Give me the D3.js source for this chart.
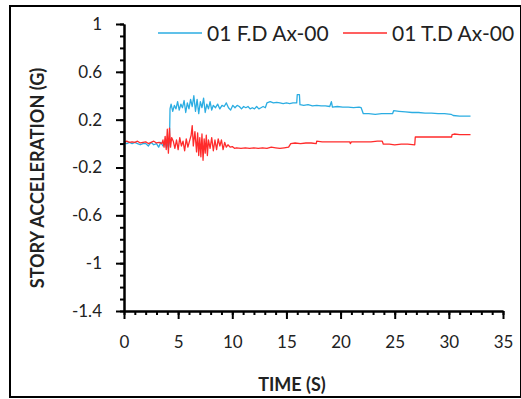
<!DOCTYPE html>
<html>
<head>
<meta charset="utf-8">
<script src="https://cdn.jsdelivr.net/npm/d3@7"></script>
<style>
  body { margin: 0; background: #fff; }
  svg { display: block; }
  text { font-family: Lato, "Open Sans", sans-serif; fill: #222; }
</style>
</head>
<body>
<svg id="chart" width="521" height="399"></svg>
<script>
// series names
var seriesNames = ["01 F.D Ax-00", "01 T.D Ax-00"];

// F.D record: [time (s), acceleration (g)]
var fdPoints = [
  [0,0.01],[0.25,0],[0.5,0.01],[0.75,0],[1,0.01],[1.25,0],[1.5,-0.01],[1.75,0],[2,0],[2.25,-0.02],
  [2.5,0.01],[2.75,-0.01],[3,0],[3.2,-0.03],[3.4,0.01],[3.6,-0.02],[3.8,0.02],[3.9,-0.03],[4.0,0],[4.1,-0.04],
  [4.2,0.02],[4.25,0.29],
  [4.35,0.33],[4.5,0.27],[4.65,0.32],[4.8,0.29],[4.95,0.35],[5.1,0.28],[5.25,0.33],[5.4,0.30],[5.55,0.36],
  [5.7,0.26],[5.85,0.34],[6.0,0.29],[6.15,0.37],[6.3,0.31],[6.45,0.40],[6.6,0.27],[6.75,0.37],[6.9,0.25],
  [7.05,0.35],[7.2,0.30],[7.35,0.38],[7.5,0.26],[7.65,0.33],[7.8,0.29],[7.95,0.35],[8.1,0.28],[8.25,0.32],
  [8.45,0.30],[8.65,0.33],[8.85,0.29],[9.05,0.32],[9.25,0.31],[9.45,0.34],[9.65,0.30],[9.85,0.28],
  [10.05,0.32],[10.25,0.30],[10.45,0.32],[10.65,0.31],[10.85,0.29],[11.05,0.31],[11.25,0.30],[11.45,0.31],
  [11.65,0.29],[11.85,0.30],[12.05,0.29],[12.25,0.31],[12.45,0.29],[12.65,0.30],[12.85,0.31],[13.05,0.30],
  [13.2,0.34],[13.5,0.35],[13.8,0.34],[14.1,0.345],[14.4,0.34],[14.7,0.335],[15.0,0.34],[15.3,0.335],
  [15.6,0.34],[15.95,0.34],[16.0,0.41],[16.2,0.41],[16.25,0.325],[16.6,0.32],[17.0,0.325],[17.4,0.315],
  [17.8,0.32],[18.2,0.315],[18.6,0.315],[19.0,0.31],[19.15,0.35],[19.25,0.305],[19.7,0.31],[20.2,0.305],
  [20.7,0.305],[21.2,0.30],[21.7,0.305],[21.9,0.30],[22.1,0.25],[22.6,0.25],[23.2,0.245],[23.8,0.25],
  [24.4,0.25],[24.8,0.25],[24.9,0.275],[25.4,0.27],[26.0,0.265],[26.6,0.26],[27.2,0.26],[27.8,0.255],
  [28.4,0.255],[29.0,0.25],[29.6,0.25],[30.2,0.245],[30.4,0.235],[31.0,0.23],[31.5,0.23],[32.0,0.23]
];

// T.D record: [time (s), acceleration (g)]
var tdPoints = [
  [0,0.01],[0.25,0.02],[0.5,0.01],[0.75,0.015],[1,0.01],[1.25,0.02],[1.5,0.005],[1.75,0.01],[2,0.015],
  [2.25,0],[2.5,0.01],[2.75,0.02],[3,0.005],[3.25,0.01],[3.5,0],
  [3.6,0.03],[3.7,-0.03],[3.8,0.06],[3.9,-0.05],[4.0,0.12],[4.1,-0.08],[4.2,0.13],[4.3,-0.03],[4.4,0.05],
  [4.55,0.02],[4.7,-0.04],[4.85,0.03],[5.0,-0.05],[5.15,0.05],[5.3,-0.02],[5.45,0.02],[5.6,-0.06],
  [5.75,0.04],[5.9,-0.03],[6.05,0.02],
  [6.2,0.07],[6.3,0.15],[6.4,-0.02],[6.55,0.10],[6.7,-0.07],
  [6.8,0.09],[6.9,-0.10],[7.0,0.05],[7.1,-0.11],[7.2,0.08],[7.3,-0.14],[7.4,0.04],[7.5,-0.08],[7.6,0.07],
  [7.7,-0.10],[7.8,0.03],
  [7.95,-0.04],[8.1,0.05],[8.25,-0.06],[8.4,0.03],[8.55,-0.05],[8.7,0.04],[8.85,-0.02],[9.0,0.03],
  [9.15,-0.05],[9.3,0.01],[9.45,-0.03],
  [9.6,-0.01],[9.8,-0.03],[10.0,-0.025],[10.2,-0.04],[10.4,-0.035],[10.8,-0.04],[11.2,-0.035],[11.6,-0.04],
  [12.0,-0.035],[12.4,-0.04],[12.8,-0.035],[13.2,-0.04],[13.6,-0.03],[14.0,-0.035],[14.4,-0.04],
  [14.8,-0.035],[15.2,-0.03],[15.4,0],[15.8,0.005],[16.3,0],[16.8,0.005],[17.3,0.005],[17.75,0],
  [17.8,0.02],[18.3,0.015],[18.8,0.015],[19.3,0.015],[19.8,0.015],[20.3,0.015],[20.85,0.015],[20.9,0],
  [21.0,0.015],[21.6,0.015],[22.2,0.015],[22.8,0.015],[23.4,0.02],[23.85,0.02],[23.95,-0.005],[24.5,-0.005],
  [25.0,-0.01],[25.6,-0.005],[26.2,-0.005],[26.85,-0.01],[26.9,0.055],[27.5,0.055],[28.1,0.055],
  [28.7,0.055],[29.3,0.055],[30.0,0.055],[30.25,0.055],[30.3,0.075],[30.5,0.08],[31.0,0.075],
  [31.5,0.075],[32.0,0.075]
];

// tick values and labels
var xTicks = [0, 5, 10, 15, 20, 25, 30, 35];
var xTickLabels = ["0", "5", "10", "15", "20", "25", "30", "35"];
var yTicks = [1, 0.6, 0.2, -0.2, -0.6, -1, -1.4];
var yTickLabels = ["1", "0.6", "0.2", "-0.2", "-0.6", "-1", "-1.4"];
var xMinor = d3.range(0, 36, 1);
var yMinor = d3.range(-14, 11, 1).map(function(i){ return i / 10; });

var colors = ["#2BADE2", "#FF2B2B"];

var svg = d3.select("#chart");

// outer frame
svg.append("rect")
    .attr("x", 10).attr("y", 6)
    .attr("width", 511).attr("height", 391)
    .attr("fill", "none")
    .attr("stroke", "#000")
    .attr("stroke-width", 2);

// scales
var xScale = d3.scaleLinear().domain([0, 35]).range([124, 503]);
var yScale = d3.scaleLinear().domain([-1.4, 1]).range([311, 24]);

// draw the lines first so axes sit on top
var line = d3.line()
    .x(function(d){ return xScale(d[0]); })
    .y(function(d){ return yScale(d[1]); });

[fdPoints, tdPoints].forEach(function(pts, i){
    svg.append("path")
        .datum(pts)
        .attr("d", line)
        .attr("fill", "none")
        .attr("stroke", colors[i])
        .attr("stroke-width", 1.3)
        .attr("stroke-linejoin", "round");
});

// minor ticks
svg.append("g")
    .attr("transform", "translate(0," + yScale(-1.4) + ")")
    .call(d3.axisBottom(xScale).tickValues(xMinor).tickSize(4).tickSizeOuter(0).tickFormat(""));
svg.append("g")
    .attr("transform", "translate(" + xScale(0) + ",0)")
    .call(d3.axisLeft(yScale).tickValues(yMinor).tickSize(4).tickSizeOuter(0).tickFormat(""));

// major ticks with labels
svg.append("g")
    .attr("class", "x-axis")
    .attr("transform", "translate(0," + yScale(-1.4) + ")")
    .call(d3.axisBottom(xScale).tickValues(xTicks).tickSize(8).tickSizeOuter(0).tickPadding(17)
        .tickFormat(function(d, i){ return xTickLabels[i]; }));
svg.append("g")
    .attr("class", "y-axis")
    .attr("transform", "translate(" + xScale(0) + ",0)")
    .call(d3.axisLeft(yScale).tickValues(yTicks).tickSize(8).tickSizeOuter(0).tickPadding(14)
        .tickFormat(function(d, i){ return yTickLabels[i]; }));

svg.selectAll(".domain, .tick line")
    .attr("stroke", "#000")
    .attr("stroke-width", 2);
svg.selectAll(".tick text")
    .style("font-family", "Lato, sans-serif")
    .style("font-size", "17px")
    .attr("fill", "#222");

// axis titles
svg.append("text")
    .attr("x", 292).attr("y", 391)
    .attr("text-anchor", "middle")
    .style("font-size", "18px")
    .style("font-weight", "bold")
    .text("TIME (S)");

svg.append("text")
    .attr("transform", "translate(44,178) rotate(-90)")
    .attr("text-anchor", "middle")
    .style("font-size", "18px")
    .style("font-weight", "bold")
    .text("STORY ACCELERATION (G)");

// legend
var legendX = [158, 343];
seriesNames.forEach(function(name, i){
    svg.append("line")
        .attr("x1", legendX[i]).attr("x2", legendX[i] + 44)
        .attr("y1", 33).attr("y2", 33)
        .attr("stroke", colors[i])
        .attr("stroke-width", 1.3);
    svg.append("text")
        .attr("x", legendX[i] + 49).attr("y", 41)
        .style("font-size", "21px")
        .text(name);
});
</script>
</body>
</html>
